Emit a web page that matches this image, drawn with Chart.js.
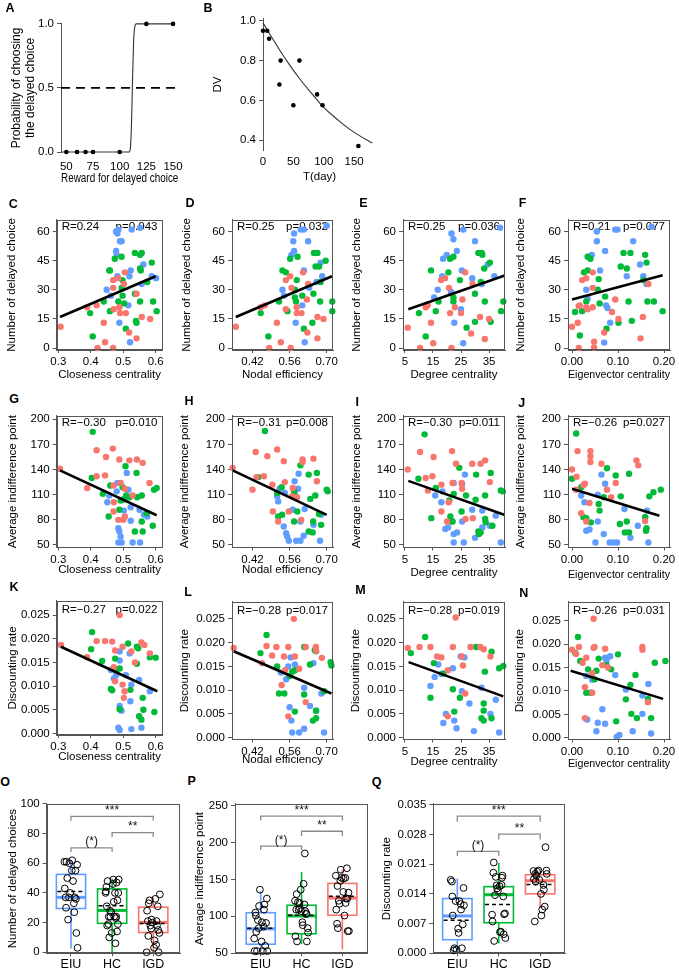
<!DOCTYPE html>
<html><head><meta charset="utf-8">
<script src="https://cdn.jsdelivr.net/npm/chart.js@4.4.0/dist/chart.umd.min.js"></script>
<style>
html,body{margin:0;padding:0;background:#fff;}
#wrap{position:relative;width:679px;height:969px;overflow:hidden;background:#fff;}
#wrap canvas{position:absolute;}
.lbl{position:absolute;font:bold 12.5px 'Liberation Sans',Arial,sans-serif;color:#000;transform:translate(-50%,-50%);line-height:1;}
</style></head><body><div id="wrap"></div>
<script>
// ---------------- DATA ----------------
// Panel A
const A_CURVE = [[45,0],[109,0],[110,0.03],[111,0.2],[112,0.55],[113,0.85],[114,0.97],[115.5,1],[150,1]];
const A_DOTS_X = [50,60,68,75,100,125,150];
const A_DOTS_Y = [0,0,0,0,0,1,1];
const A_THRESHOLD = 0.5;
const A_X_TICKS = [50,75,100,125,150];
const A_Y_TICKS = [0,0.5,1];
// Panel B
const B_T = [0,7,10,29,27,50,60,89,98,157];
const B_DV = [0.95,0.95,0.91,0.80,0.68,0.575,0.80,0.63,0.575,0.37];
const B_FIT_T = [0,20,40,60,80,100,120,140,160,180];
const B_FIT_DV = [0.99,0.89,0.795,0.71,0.635,0.565,0.51,0.46,0.42,0.385];
const B_X_TICKS = [0,50,100,150];
const B_Y_TICKS = [0.4,0.6,0.8,1.0];

// tick labels for scatter grids
const X_TICKS_CLOSE = [0.3,0.4,0.5,0.6];
const X_TICKS_NODAL = [0.42,0.56,0.70];
const X_TICKS_DEGREE = [5,15,25,35];
const X_TICKS_EIGEN = [0.00,0.10,0.20];
const Y_TICKS_DELAY = [0,15,30,45,60];
const Y_TICKS_INDIFF = [50,80,110,140,170,200];
const Y_TICKS_DISC = [0,0.005,0.010,0.015,0.020,0.025];

// C: closeness vs number of delayed choice
const C_red = [[0.307,11],[0.389,21],[0.418,22],[0.44,13],[0.421,0],[0.444,3],[0.469,31],[0.469,35],[0.485,36],[0.488,21],[0.469,0],[0.471,20],[0.49,18],[0.508,18],[0.505,39],[0.502,33],[0.518,8],[0.541,28],[0.541,5],[0.557,16],[0.583,15]];
const C_blue = [[0.449,30],[0.462,27],[0.478,60],[0.482,59],[0.485,61],[0.49,55],[0.495,55],[0.478,50],[0.48,48],[0.482,37],[0.488,13],[0.523,40],[0.519,37],[0.516,22],[0.521,3],[0.526,61],[0.552,62],[0.562,43],[0.557,33],[0.588,37],[0.601,36]];
const C_green = [[0.398,18],[0.406,6],[0.44,24],[0.457,40],[0.459,40],[0.474,46],[0.495,47],[0.459,19],[0.485,24],[0.495,31],[0.498,35],[0.498,27],[0.503,23],[0.508,10],[0.536,49],[0.552,48],[0.557,49],[0.552,41],[0.554,40],[0.536,28],[0.539,14],[0.541,13],[0.552,24],[0.588,44],[0.574,34],[0.592,24],[0.603,19]];
const C_fit = [[0.305,16],[0.6,37]];
// D: nodal efficiency vs delayed choice
const D_red = [[0.357,11],[0.451,21],[0.466,22],[0.483,0],[0.512,13],[0.527,3],[0.546,35],[0.562,37],[0.567,31],[0.546,20],[0.587,21],[0.587,18],[0.564,0],[0.605,18],[0.611,39],[0.625,25],[0.63,33],[0.627,8],[0.665,16],[0.665,5],[0.688,15]];
const D_blue = [[0.533,30],[0.539,27],[0.567,48],[0.577,50],[0.574,55],[0.577,59],[0.583,13],[0.602,61],[0.614,61],[0.608,22],[0.614,40],[0.617,3],[0.63,55],[0.634,31],[0.662,34],[0.677,44],[0.683,37],[0.7,63]];
const D_green = [[0.451,18],[0.48,6],[0.52,24],[0.533,40],[0.546,39],[0.552,19],[0.562,46],[0.59,47],[0.587,35],[0.58,30],[0.58,26],[0.584,24],[0.608,27],[0.614,10],[0.646,13],[0.65,28],[0.652,49],[0.665,49],[0.658,42],[0.671,42],[0.677,34],[0.696,45],[0.675,24],[0.721,24],[0.721,19]];
const D_fit = [[0.357,16],[0.72,37]];
// E: degree vs delayed choice
const E_red = [[6.0,10.5],[10.4,0],[12.4,21],[13.1,22],[14.3,13],[15.1,2.5],[17.9,35],[19.3,36],[20.7,31],[21.1,18],[21.6,0],[22.8,21],[25,18],[25.5,25],[26.5,39],[28.6,7.5],[29.1,33],[31.8,16],[33.5,4.7],[35,15]];
const E_blue = [[15.4,26],[16.7,30],[18.3,37],[18.6,46],[19.9,48],[21.4,29],[21.6,59],[22.3,56],[22.6,13],[23.5,50],[25,20],[25.3,40],[25.8,2.5],[25.8,61],[29,36],[30,55],[32.4,33],[34.5,43],[36.9,37],[38.9,62]];
const E_green = [[10,18],[12.4,6],[14.3,40],[16,19],[17,24],[20.5,39],[21.1,46],[22.3,47],[22.3,26],[22.3,24],[24.6,35],[27,10.5],[30,28],[30,13.5],[31.2,49],[32.4,49],[32.6,48],[33.3,41],[33.5,24],[35.3,44],[35.6,13.5],[39.3,19],[40.1,24],[32.1,34]];
const E_fit = [[6.2,20],[40.6,37.4]];
// F: eigenvector vs delayed choice
const F_red = [[0.0,11],[0.0125,13],[0.0145,0],[0.0145,21.6],[0.017,22],[0.022,35],[0.031,36],[0.031,21],[0.034,20],[0.045,39],[0.045,31],[0.045,21],[0.048,3.3],[0.048,0.3],[0.07,8],[0.087,18.6],[0.094,25],[0.101,15],[0.154,16],[0.149,5],[0.166,33]];
const F_blue = [[0.031,30],[0.034,25.5],[0.038,47],[0.043,48],[0.054,60],[0.054,55],[0.061,40],[0.072,50],[0.074,22],[0.077,20.6],[0.083,13],[0.07,2.8],[0.094,61],[0.099,61],[0.119,37],[0.133,55],[0.148,43],[0.155,37],[0.162,33],[0.173,62.5]];
const F_green = [[0.0065,18.6],[0.017,6.5],[0.022,19],[0.026,39],[0.034,40],[0.034,47],[0.04,46],[0.031,24],[0.056,30],[0.058,35.5],[0.06,23],[0.072,26.5],[0.075,10],[0.101,13],[0.106,42],[0.112,49],[0.119,41],[0.123,24],[0.127,49],[0.13,14],[0.159,48],[0.162,44],[0.164,24],[0.178,24],[0.197,19],[0.155,35]];
const F_fit = [[0.0,25],[0.197,37.5]];
// G: closeness vs indifference point
const G_red = [[0.305,141],[0.389,118],[0.418,163],[0.418,132],[0.447,155],[0.444,133],[0.468,165],[0.47,121],[0.471,101],[0.47,90],[0.485,80],[0.488,152],[0.492,124],[0.505,117],[0.5,80],[0.505,84],[0.519,151],[0.529,109],[0.542,152],[0.56,148],[0.581,124]];
const G_blue = [[0.451,101],[0.457,109],[0.48,114],[0.482,124],[0.485,70],[0.488,66],[0.492,60],[0.485,53],[0.495,53],[0.502,105],[0.502,91],[0.511,136],[0.516,116],[0.523,95],[0.529,53],[0.523,79],[0.55,92],[0.552,53],[0.564,86],[0.574,84]];
const G_green = [[0.403,130],[0.406,185],[0.437,111],[0.455,84],[0.46,121],[0.488,92],[0.492,103],[0.498,119],[0.507,144],[0.509,109],[0.536,66],[0.541,136],[0.543,107],[0.557,109],[0.557,78],[0.56,66],[0.572,88],[0.591,73],[0.595,116],[0.603,118],[0.5,104],[0.519,107]];
const G_fit = [[0.305,139],[0.603,85.5]];
// H: nodal vs indifference point
const H_red = [[0.345,142],[0.42,116],[0.432,161],[0.435,131],[0.463,132],[0.476,156],[0.513,164],[0.495,122],[0.497,90],[0.517,78],[0.538,150],[0.542,125],[0.557,90],[0.572,118],[0.569,108],[0.588,107],[0.609,149],[0.609,152],[0.604,80],[0.663,126],[0.65,153]];
const H_blue = [[0.513,108],[0.517,102],[0.522,117],[0.542,112],[0.538,72],[0.547,64],[0.557,55],[0.551,60],[0.572,92],[0.579,126],[0.594,135],[0.592,117],[0.601,78],[0.601,55],[0.585,55],[0.613,61],[0.617,93],[0.65,74],[0.675,55],[0.679,86]];
const H_green = [[0.442,131],[0.467,186],[0.513,112],[0.517,84],[0.532,86],[0.53,119],[0.577,114],[0.579,110],[0.577,78],[0.589,90],[0.601,145],[0.632,66],[0.638,105],[0.632,134],[0.647,65],[0.649,78],[0.657,109],[0.663,136],[0.679,74],[0.7,116],[0.704,114],[0.671,87]];
const H_fit = [[0.345,139],[0.7,86]];
// I: degree vs indifference point
const I_red = [[6,140],[10.4,161],[12.4,130],[13.2,115],[14.8,132],[15.2,155],[18,122],[18,90],[20,78],[20.6,101],[21.8,162],[22,124],[23.2,147],[25.4,117],[25.2,124],[26.6,81],[29,147],[32,147],[33.6,151],[35.3,125],[29.2,82]];
const I_blue = [[15.8,109],[18,101],[18.4,114],[19.4,69],[20.4,71],[22.4,124],[22.4,63],[22.4,53],[23.6,65],[25.4,78],[25.4,123],[26,53],[26.4,134],[29,92],[30,58.5],[32.6,91],[32.6,71],[35.3,73],[37.4,85],[39.2,53]];
const I_green = [[9.8,129],[12,182],[14.4,82],[16,118],[20.8,103],[21.2,84],[21.6,78],[22,78],[22.4,111],[24.4,142],[25.2,90],[26.8,109],[30.2,104],[30.4,134],[31.2,66],[31.4,63],[32,65],[33.6,109],[33.6,81],[33.8,77],[35.6,136],[36.2,73],[39.2,115],[39.9,114]];
const I_fit = [[6.2,126.5],[40.4,86]];
// J: eigenvector vs indifference point
const J_red = [[0.0,140],[0.01,131.5],[0.012,162],[0.009,116],[0.025,121.5],[0.028,123],[0.02,88],[0.031,78],[0.038,100],[0.04,162],[0.04,156],[0.04,149],[0.064,147],[0.076,116],[0.085,107],[0.095,124],[0.14,151],[0.144,145],[0.159,78.5]];
const J_blue = [[0.02,109],[0.027,101],[0.031,67],[0.038,68.5],[0.056,110],[0.064,134],[0.072,123],[0.056,78],[0.069,63],[0.051,53],[0.082,53],[0.09,53],[0.098,53],[0.114,93],[0.127,58.5],[0.143,73],[0.159,83],[0.163,91],[0.166,53]];
const J_green = [[0.0,129],[0.009,183],[0.02,119],[0.025,83],[0.031,82],[0.041,77],[0.058,99],[0.06,91],[0.069,107],[0.076,141.5],[0.095,133],[0.106,108],[0.104,75],[0.115,65],[0.119,78],[0.124,135],[0.124,65],[0.159,83],[0.161,67],[0.162,70],[0.168,108],[0.177,113],[0.193,116]];
const J_fit = [[0.0,117],[0.19,85]];
// K: closeness vs discounting rate
const K_red = [[0.308,0.0187],[0.388,0.0161],[0.418,0.0195],[0.444,0.0195],[0.466,0.0194],[0.471,0.014],[0.475,0.011],[0.498,0.0183],[0.498,0.0103],[0.502,0.0075],[0.489,0.025],[0.525,0.0173],[0.536,0.015],[0.556,0.0192],[0.565,0.0187],[0.582,0.0169],[0.504,0.0089],[0.475,0.0175]];
const K_blue = [[0.462,0.0134],[0.471,0.0116],[0.478,0.0123],[0.489,0.0154],[0.489,0.0173],[0.489,0.0058],[0.485,0.0012],[0.489,0.0007],[0.508,0.0123],[0.52,0.0169],[0.522,0.0068],[0.525,0.0009],[0.525,0.0103],[0.556,0.0012],[0.549,0.0113],[0.582,0.0089],[0.495,0.0048]];
const K_green = [[0.404,0.0214],[0.401,0.0178],[0.435,0.0153],[0.462,0.0094],[0.466,0.0091],[0.475,0.0158],[0.478,0.0134],[0.489,0.0137],[0.489,0.0051],[0.515,0.019],[0.522,0.0092],[0.542,0.0147],[0.542,0.0183],[0.546,0.018],[0.549,0.0036],[0.556,0.0029],[0.562,0.005],[0.56,0.0075],[0.582,0.0161],[0.6,0.016],[0.596,0.0045]];
const K_fit = [[0.308,0.0183],[0.605,0.0089]];
// L: nodal vs discounting rate
const L_red = [[0.349,0.0189],[0.456,0.0157],[0.473,0.0193],[0.51,0.0191],[0.494,0.0173],[0.539,0.0171],[0.555,0.0191],[0.58,0.0171],[0.53,0.0111],[0.543,0.0142],[0.576,0.025],[0.596,0.0145],[0.621,0.0191],[0.621,0.0075],[0.659,0.0191],[0.66,0.0183],[0.682,0.0168],[0.555,0.0045]];
const L_blue = [[0.527,0.0137],[0.547,0.0123],[0.555,0.015],[0.58,0.0154],[0.564,0.0169],[0.56,0.0064],[0.567,0.0036],[0.57,0.0011],[0.596,0.0011],[0.615,0.0019],[0.615,0.0105],[0.637,0.0067],[0.65,0.0157],[0.66,0.0057],[0.68,0.0093],[0.69,0.0011]];
const L_green = [[0.473,0.0216],[0.45,0.0178],[0.513,0.015],[0.52,0.0093],[0.54,0.0093],[0.56,0.013],[0.57,0.0139],[0.58,0.0142],[0.58,0.0055],[0.615,0.0191],[0.615,0.0091],[0.637,0.0154],[0.655,0.0184],[0.66,0.0182],[0.648,0.0036],[0.66,0.0041],[0.66,0.0057],[0.69,0.0098],[0.715,0.0159],[0.718,0.0152]];
const L_fit = [[0.349,0.0182],[0.718,0.0093]];
// M: degree vs discounting rate
const M_red = [[6.0,0.0189],[10.2,0.0191],[14.1,0.0191],[16.5,0.0171],[18,0.0169],[20.3,0.0142],[20.3,0.0045],[22.1,0.0191],[23.1,0.0253],[25.3,0.0171],[25.7,0.0152],[26.5,0.0093],[28.4,0.0191],[31.9,0.0191],[33.1,0.0186],[35.5,0.0171]];
const M_blue = [[14.1,0.0109],[15.6,0.0128],[16.9,0.0154],[18,0.0134],[19.6,0.005],[18.7,0.0031],[22.1,0.0146],[22.6,0.0036],[23.4,0.002],[24.9,0.0171],[25.3,0.0098],[26.2,0.0169],[28,0.0072],[29.6,0.0014],[32.3,0.0105],[35.5,0.005],[37.4,0.008],[38.6,0.0011]];
const M_green = [[7.1,0.0178],[12.2,0.0212],[14.1,0.0084],[15.3,0.0157],[18.7,0.0135],[22.1,0.0102],[22.6,0.0055],[24.6,0.0084],[30.4,0.0191],[32.3,0.0041],[33.1,0.0036],[33.1,0.0057],[33.1,0.0072],[33.5,0.0139],[35.9,0.0181],[35.9,0.0041],[38.6,0.0146],[40.1,0.0151]];
const M_fit = [[6.3,0.0159],[40.1,0.0087]];
// N: eigenvector vs discounting rate
const N_red = [[0.0,0.0188],[0.009,0.0179],[0.015,0.0194],[0.023,0.016],[0.028,0.0108],[0.031,0.0171],[0.044,0.0138],[0.044,0.0096],[0.047,0.0192],[0.049,0.0194],[0.047,0.0254],[0.066,0.0155],[0.072,0.019],[0.078,0.015],[0.153,0.0194],[0.153,0.0188],[0.165,0.0076],[0.028,0.0042]];
const N_blue = [[0.031,0.0132],[0.033,0.0039],[0.044,0.0124],[0.053,0.0014],[0.056,0.0032],[0.066,0.0061],[0.072,0.0171],[0.072,0.003],[0.075,0.0165],[0.083,0.0174],[0.094,0.0134],[0.097,0.0002],[0.103,0.0006],[0.117,0.0103],[0.132,0.0014],[0.153,0.009],[0.153,0.0051],[0.166,0.0115],[0.172,0.0009]];
const N_green = [[0.007,0.0181],[0.013,0.0215],[0.018,0.0164],[0.031,0.0096],[0.035,0.0146],[0.04,0.0096],[0.049,0.0125],[0.053,0.0143],[0.058,0.0169],[0.075,0.0155],[0.085,0.0146],[0.096,0.0035],[0.1,0.0178],[0.117,0.0082],[0.127,0.0113],[0.129,0.0051],[0.138,0.0134],[0.141,0.0042],[0.165,0.0083],[0.172,0.0042],[0.18,0.016],[0.203,0.0164]];
const N_fit = [[-0.003,0.0143],[0.198,0.0083]];

const STATS = {
  C:['R=0.24','p=0.043'], D:['R=0.25','p=0.032'], E:['R=0.25','p=0.036'], F:['R=0.21','p=0.077'],
  G:['R=\u22120.30','p=0.010'], H:['R=\u22120.31','p=0.008'], I:['R=\u22120.30','p=0.011'], J:['R=\u22120.26','p=0.027'],
  K:['R=\u22120.27','p=0.022'], L:['R=\u22120.28','p=0.017'], M:['R=\u22120.28','p=0.019'], N:['R=\u22120.26','p=0.031']
};

// Box plots: [whisker low, Q1, median, Q3, whisker high, mean]
const GROUPS = ['EIU','HC','IGD'];
const O_BOX = [[2.6,29.5,37,52.5,62,41],[0,19.5,28.2,42.7,49.6,31.3],[0,13.3,20.1,30.4,37,19.4]];
const P_BOX = [[53.5,62.3,83,104.9,133.5,84],[62.3,76.4,100.5,115,160,101.5],[55.3,101.4,124.7,144.5,163,127]];
const Q_BOX = [[0,0.0032,0.0088,0.0129,0.0176,0.0078],[0.0023,0.0072,0.0138,0.0157,0.0213,0.0115],[0.0107,0.014,0.0171,0.0185,0.0195,0.0162]];
const O_Y_TICKS = [0,20,40,60,80,100];
const P_Y_TICKS = [50,100,150,200,250];
const Q_Y_TICKS = [0,0.007,0.014,0.021,0.028,0.035];
// significance brackets: [from group, to group, bar level, drop level, label]
const O_SIG = [[1,3,91.6,88.6,'***'],[2,3,80.7,77.7,'**'],[1,2,70.4,67.6,'(*)']];
const P_SIG = [[1,3,235.5,229.4,'***'],[2,3,215,208.7,'**'],[1,2,195,189.8,'(*)']];
const Q_SIG = [[1,3,0.0323,0.031,'***'],[2,3,0.0281,0.0268,'**'],[1,2,0.024,0.023,'(*)']];
// horizontal jitter of the dots inside each group (read offsets)
const JIT = [-0.12,0.08,-0.04,0.15,-0.16,0.02,0.11,-0.09,0.05,-0.13,0.13,-0.02,0.09,-0.07,0.16,-0.11,0.03,-0.15,0.07,-0.05,0.12,-0.01,0.1,-0.14,0.04,-0.08,0.14];

// ---------------- RENDER ----------------
const FONT = "'Liberation Sans', Arial, Helvetica, sans-serif";
Chart.defaults.font.family = FONT;
Chart.defaults.font.size = 11.5;
Chart.defaults.color = '#000';
const AX = '#555';
const COL = {red:'#F8766D', green:'#00BA38', blue:'#619CFF'};
const GCOL = [COL.blue, COL.green, COL.red];
const wrap = document.getElementById('wrap');

function fmt(v, d){ return d == null ? String(v) : Number(v).toFixed(d); }

function buildChart(p){
  const tfs = p.titleFs || 11.5;
  const lh = tfs * 1.2;
  const cx = Math.round(p.yTitleX - lh/2);
  const cy = Math.round(p.box.t - 6);
  const right = Math.round(p.box.r + 8);
  const bottom = Math.round(p.xTitleY != null ? p.xTitleY + lh/2 : p.box.b + 18);
  const W = right - cx, H = bottom - cy;
  const cv = document.createElement('canvas');
  cv.width = W; cv.height = H;
  cv.style.left = cx + 'px'; cv.style.top = cy + 'px';
  cv.style.width = W + 'px'; cv.style.height = H + 'px';
  wrap.appendChild(cv);
  const yW = p.box.l - cx, xH = bottom - p.box.b;
  const plugins = [];
  if (p.frame) plugins.push({id:'frame', afterDraw(ch){
    const a = ch.chartArea, c = ch.ctx;
    c.save(); c.strokeStyle = AX; c.lineWidth = 1;
    const l = Math.round(a.left)+0.5, t = Math.round(a.top)+0.5, r = Math.round(a.right)-0.5, b = Math.round(a.bottom)-0.5;
    c.strokeRect(l, t, r-l, b-t); c.restore();
  }});
  if (p.stats) plugins.push({id:'stats', beforeDatasetsDraw(ch){
    const a = ch.chartArea, c = ch.ctx;
    c.save(); c.font = '11.5px ' + FONT; c.fillStyle = '#000'; c.textBaseline = 'middle';
    c.textAlign = 'left'; c.fillText(p.stats[0], a.left + 5, a.top + p.statsDy);
    c.textAlign = 'right'; c.fillText(p.stats[1], a.right - 5, a.top + p.statsDy);
    c.restore();
  }});
  if (p.boxes) plugins.push({id:'boxes', beforeDatasetsDraw(ch){
    const xs = ch.scales.x, ys = ch.scales.y, c = ch.ctx;
    p.boxes.forEach((s, i) => {
      const [lo,q1,md,q3,hi,mn] = s;
      const xc = xs.getPixelForValue(i+1);
      const hw = xs.getPixelForValue(i+1+0.355) - xc;
      const Y = v => ys.getPixelForValue(v);
      c.save(); c.strokeStyle = GCOL[i]; c.lineWidth = 1.6;
      c.beginPath(); c.moveTo(xc, Y(lo)); c.lineTo(xc, Y(q1)); c.moveTo(xc, Y(q3)); c.lineTo(xc, Y(hi)); c.stroke();
      c.strokeRect(xc-hw, Y(q3), 2*hw, Y(q1)-Y(q3));
      c.lineWidth = 3; c.beginPath(); c.moveTo(xc-hw, Y(md)); c.lineTo(xc+hw, Y(md)); c.stroke();
      c.strokeStyle = '#000'; c.lineWidth = 1.5; c.setLineDash([4,3]);
      c.beginPath(); c.moveTo(xc-hw+1, Y(mn)); c.lineTo(xc+hw-1, Y(mn)); c.stroke();
      c.restore();
    });
  }});
  if (p.sig) plugins.push({id:'sig', afterDatasetsDraw(ch){
    const xs = ch.scales.x, ys = ch.scales.y, c = ch.ctx;
    p.sig.forEach(([g1,g2,lv,dr,txt]) => {
      const x1 = xs.getPixelForValue(g1), x2 = xs.getPixelForValue(g2);
      const y = ys.getPixelForValue(lv), yd = ys.getPixelForValue(dr);
      c.save(); c.strokeStyle = '#8a8a8a'; c.lineWidth = 1.3;
      c.beginPath(); c.moveTo(x1, yd); c.lineTo(x1, y); c.lineTo(x2, y); c.lineTo(x2, yd); c.stroke();
      c.fillStyle = '#111'; c.font = '12px ' + FONT; c.textAlign = 'center'; c.textBaseline = 'alphabetic';
      c.fillText(txt, (x1+x2)/2, y - 2.5);
      c.restore();
    });
  }});
  new Chart(cv, {
    type: 'scatter',
    data: {datasets: p.datasets},
    options: {
      responsive: false, maintainAspectRatio: false, animation: false, devicePixelRatio: 1, events: [],
      layout: {autoPadding: false, padding: {top: p.box.t - cy, right: right - p.box.r, left: 0, bottom: 0}},
      plugins: {legend: {display: false}, tooltip: {enabled: false}},
      scales: {
        x: {
          type: 'linear', position: 'bottom', min: p.xMin, max: p.xMax,
          afterBuildTicks: ax => { ax.ticks = p.xTicks.map(v => ({value: v})); },
          afterFit: ax => { ax.height = xH; },
          ticks: {autoSkip: false, maxRotation: 0, minRotation: 0, padding: p.xPad != null ? p.xPad : 2, color: '#000',
                  font: {size: p.xTickFs || 11.5},
                  callback: (v, i) => p.xLabels ? p.xLabels[i] : fmt(p.xTicks[i], p.xDec)},
          grid: {display: p.xMarks !== false, drawOnChartArea: false, drawTicks: true, tickLength: 3, color: AX},
          border: {display: p.xLine !== false, color: AX, width: 1},
          title: {display: !!p.xTitle, text: p.xTitle, padding: 0, color: '#000', font: {size: tfs}}
        },
        y: {
          type: 'linear', position: 'left', min: p.yMin, max: p.yMax,
          afterBuildTicks: ax => { ax.ticks = p.yTicks.map(v => ({value: v})); },
          afterFit: ax => { ax.width = yW; },
          ticks: {autoSkip: false, padding: 3, color: '#000', font: {size: 11.5},
                  callback: (v, i) => fmt(p.yTicks[i], p.yDec)},
          grid: {display: true, drawOnChartArea: false, drawTicks: true, tickLength: 4, color: AX},
          border: {display: true, color: AX, width: 1},
          title: {display: !!p.yTitle, text: p.yTitle, padding: 0, color: '#000', font: {size: tfs}}
        }
      }
    },
    plugins
  });
}

const pts = arr => arr.map(([x,y]) => ({x, y}));
function dots(arr, color){ return {data: pts(arr), backgroundColor: color, borderWidth: 0, pointRadius: 3.2, clip: false}; }
function fitLine(arr){ return {data: pts(arr), showLine: true, borderColor: '#000', borderWidth: 2.6, pointRadius: 0, clip: false}; }

// Panel A
buildChart({
  box: {l:61, t:20, r:180, b:152}, titleFs: 12, yTitleX: 15.7, xTitleY: 178.3,
  yTitle: ['Probability of choosing','the delayed choice'], xTitle: 'Reward for delayed choice',
  xMin: 45, xMax: 155, yMin: 0, yMax: 1, xTicks: A_X_TICKS, yTicks: A_Y_TICKS, yDec: 1,
  xLine: false, xMarks: false, xPad: 5,
  datasets: [
    {data: A_DOTS_X.map((x,i) => ({x, y: A_DOTS_Y[i]})), backgroundColor: '#000', borderWidth: 0, pointRadius: 2.3, clip: false},
    {data: pts(A_CURVE), showLine: true, cubicInterpolationMode: 'monotone', borderColor: '#333', borderWidth: 1.1, pointRadius: 0, clip: false},
    {data: [{x: 45, y: A_THRESHOLD}, {x: 155, y: A_THRESHOLD}], showLine: true, borderColor: '#000', borderWidth: 1.8, borderDash: [9,6], pointRadius: 0}
  ]
});
// Panel B
buildChart({
  box: {l:263, t:15, r:376, b:150}, yTitleX: 218, xTitleY: 176.7, yTitle: 'DV', xTitle: 'T(day)',
  xMin: 0, xMax: 186, yMin: 0.35, yMax: 1.01, xTicks: B_X_TICKS, yTicks: B_Y_TICKS, yDec: 1,
  xLine: false, xMarks: false, xPad: 2,
  datasets: [
    {data: B_T.map((x,i) => ({x, y: B_DV[i]})), backgroundColor: '#000', borderWidth: 0, pointRadius: 2.3, clip: false},
    {data: B_FIT_T.map((x,i) => ({x, y: B_FIT_DV[i]})), showLine: true, tension: 0.4, borderColor: '#333', borderWidth: 1.1, pointRadius: 0, clip: false}
  ]
});

// Scatter grid
const COLS = [
  {l:56.7, r:162.5, xMin:0.295, xMax:0.621, ticks:X_TICKS_CLOSE, dec:1, title:'Closeness centrality'},
  {l:232, r:333, xMin:0.3426, xMax:0.7238, ticks:X_TICKS_NODAL, dec:2, title:'Nodal efficiency'},
  {l:403, r:505, xMin:4.3, xMax:40.7, ticks:X_TICKS_DEGREE, dec:0, title:'Degree centrality'},
  {l:568, r:670, xMin:-0.0087, xMax:0.213, ticks:X_TICKS_EIGEN, dec:2, title:'Eigenvector centrality'}
];
const ROWS = [
  {title:'Number of delayed choice', ticks:Y_TICKS_DELAY, dec:0, dy:6.5,
   geo:[{t:216,b:350,yMin:-1,yMax:66,yt:11.7,xt:375},{t:216,b:350,yMin:-1,yMax:66,yt:186.7,xt:375},
        {t:216,b:350,yMin:-1,yMax:66,yt:356.7,xt:375},{t:216,b:350,yMin:-1,yMax:66,yt:520.7,xt:375}]},
  {title:'Average indifference point', ticks:Y_TICKS_INDIFF, dec:0, dy:7,
   geo:[{t:411.5,b:547.5,yMin:47,yMax:204,yt:12.7,xt:570},{t:411.5,b:547.5,yMin:47,yMax:204,yt:185,xt:570},
        {t:411.5,b:547.5,yMin:47,yMax:204,yt:356.7,xt:573},{t:411.5,b:547.5,yMin:47,yMax:204,yt:521,xt:575}]},
  {title:'Discounting rate', ticks:Y_TICKS_DISC, dec:3, dy:8.5,
   geo:[{t:597,b:735,yMin:-0.00035,yMax:0.028,yt:13,xt:757},{t:598.3,b:739.5,yMin:-0.00037,yMax:0.02857,yt:184.8,xt:760},
        {t:598.3,b:739.5,yMin:-0.00037,yMax:0.02857,yt:355.6,xt:762},{t:598.3,b:739.5,yMin:-0.00037,yMax:0.029,yt:519.6,xt:764}]}
];
const SCATTER = [
  ['C',C_red,C_blue,C_green,C_fit],['D',D_red,D_blue,D_green,D_fit],['E',E_red,E_blue,E_green,E_fit],['F',F_red,F_blue,F_green,F_fit],
  ['G',G_red,G_blue,G_green,G_fit],['H',H_red,H_blue,H_green,H_fit],['I',I_red,I_blue,I_green,I_fit],['J',J_red,J_blue,J_green,J_fit],
  ['K',K_red,K_blue,K_green,K_fit],['L',L_red,L_blue,L_green,L_fit],['M',M_red,M_blue,M_green,M_fit],['N',N_red,N_blue,N_green,N_fit]
];
SCATTER.forEach(([id, red, blue, green, fit], k) => {
  const row = ROWS[Math.floor(k/4)], col = COLS[k%4], g = row.geo[k%4];
  buildChart({
    box: {l: col.l, t: g.t, r: col.r, b: g.b}, yTitleX: g.yt, xTitleY: g.xt,
    yTitle: row.title, xTitle: col.title,
    xMin: col.xMin, xMax: col.xMax, yMin: g.yMin, yMax: g.yMax,
    xTicks: col.ticks, xDec: col.dec, yTicks: row.ticks, yDec: row.dec,
    frame: true, stats: STATS[id], statsDy: row.dy,
    datasets: [fitLine(fit), dots(red, COL.red), dots(green, COL.green), dots(blue, COL.blue)]
  });
});

// Box plots O, P, Q
function groupDots(vals, gi){
  return {data: vals.map((v,i) => ({x: gi + 1 + JIT[i % JIT.length], y: v})),
          backgroundColor: 'rgba(255,255,255,0)', borderColor: '#000', borderWidth: 1, pointRadius: 3.4, clip: false};
}
const O_VALS = [C_blue, C_green, C_red].map(a => a.map(d => d[1]));
const P_VALS = [G_blue, G_green, G_red].map(a => a.map(d => d[1]));
const Q_VALS = [K_blue, K_green, K_red].map(a => a.map(d => d[1]));
const BOXP = [
  {box:{l:46.7,t:800,r:180,b:953.3}, yt:13.3, title:'Number of delayed choices', xMin:0.41, xMax:3.65, yMin:-0.7, yMax:100, ticks:O_Y_TICKS, dec:0, stats:O_BOX, sig:O_SIG, vals:O_VALS},
  {box:{l:235,t:800,r:367.7,b:953.3}, yt:200, title:'Average indifference point', xMin:0.37, xMax:3.62, yMin:50, yMax:252, ticks:P_Y_TICKS, dec:0, stats:P_BOX, sig:P_SIG, vals:P_VALS},
  {box:{l:433.3,t:800,r:565,b:953.3}, yt:386.7, title:'Discounting rate', xMin:0.42, xMax:3.6, yMin:0, yMax:0.0352, ticks:Q_Y_TICKS, dec:3, stats:Q_BOX, sig:Q_SIG, vals:Q_VALS}
];
BOXP.forEach(b => {
  buildChart({
    box: b.box, yTitleX: b.yt, xTitleY: null, yTitle: b.title,
    xMin: b.xMin, xMax: b.xMax, yMin: b.yMin, yMax: b.yMax,
    xTicks: [1,2,3], xLabels: GROUPS, xTickFs: 12.5, xPad: 1, yTicks: b.ticks, yDec: b.dec,
    frame: true, boxes: b.stats, sig: b.sig,
    datasets: b.vals.map((v, gi) => groupDots(v, gi))
  });
});

// Panel letters
const LETTERS = [['A',10,7.5],['B',208,7.5],['C',13.3,203.7],['D',190,203.3],['E',363.3,203.3],['F',522.7,203],
  ['G',14,399],['H',189,401],['I',357.3,401.7],['J',521.7,403],['K',14,587.3],['L',188,591.7],['M',360.4,590],['N',523.7,593.3],
  ['O',5,781.7],['P',191.7,781],['Q',376.7,781.7]];
LETTERS.forEach(([t,x,y]) => {
  const d = document.createElement('div'); d.className = 'lbl'; d.textContent = t;
  d.style.left = x + 'px'; d.style.top = y + 'px'; wrap.appendChild(d);
});
</script></body></html>
